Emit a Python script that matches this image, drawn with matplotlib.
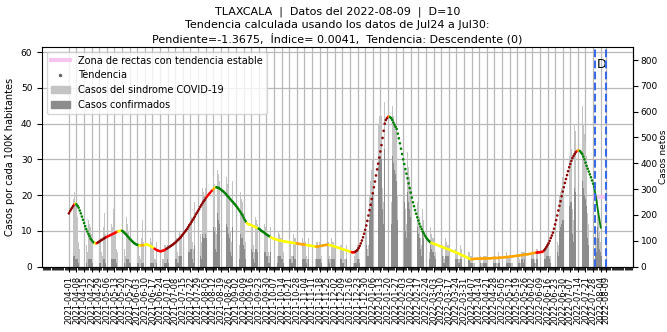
import numpy as np
import pandas as pd
import matplotlib
matplotlib.use("Agg")
import matplotlib.pyplot as plt
import matplotlib.dates as mdates
from matplotlib.lines import Line2D
from matplotlib.patches import Patch

# Datos (casos por cada 100K habitantes)
fecha_inicio = "2021-04-01"
fecha_d = "2022-07-30"
fecha_datos = "2022-08-09"
factor_netos = 13.84  # casos netos por cada caso/100K

# casos del sindrome COVID-19 (diarios desde 2021-04-01)
sindrome = [
    17, 15, 8, 6, 19, 21, 18,  16, 14, 7, 5, 18, 17, 20,  26, 14, 6, 4, 13, 12, 11,
    9, 8, 4, 3, 10, 9, 8,  9, 8, 4, 3, 11, 15, 9,  10, 9, 5, 3, 12, 11, 16,
    11, 10, 5, 4, 18, 13, 12,  11, 10, 5, 3, 14, 12, 10,  8, 8, 4, 3, 9, 8, 9,
    7, 6, 3, 2, 8, 13, 7,  7, 6, 3, 2, 9, 8, 7,  6, 5, 2, 2, 7, 6, 6,
    5, 5, 2, 2, 6, 6, 5,  6, 6, 3, 2, 8, 7, 7,  8, 8, 4, 3, 10, 9, 9,
    11, 10, 5, 4, 13, 12, 12,  15, 14, 7, 5, 18, 17, 16,  19, 17, 9, 7, 22, 21, 20,
    22, 20, 10, 8, 26, 24, 23,  25, 23, 11, 9, 27, 26, 24,  24, 22, 11, 8, 26, 25, 23,
    22, 20, 10, 7, 24, 22, 21,  19, 17, 8, 6, 21, 19, 18,  15, 13, 7, 5, 16, 14, 13,
    13, 12, 6, 4, 14, 13, 12,  12, 11, 5, 4, 13, 12, 11,  10, 9, 4, 3, 11, 10, 10,
    9, 8, 4, 3, 10, 9, 8,  8, 8, 4, 3, 9, 8, 8,  8, 7, 3, 3, 9, 8, 8,
    7, 7, 3, 3, 8, 8, 7,  7, 7, 3, 2, 8, 7, 7,  7, 6, 3, 2, 7, 7, 6,
    7, 6, 3, 2, 8, 7, 6,  7, 7, 3, 2, 8, 7, 7,  6, 6, 3, 2, 7, 6, 6,
    6, 5, 2, 2, 6, 5, 5,  5, 4, 2, 1, 3, 4, 5,  6, 4, 2, 3, 8, 10, 12,
    14, 10, 5, 6, 20, 24, 27,  30, 30, 15, 12, 38, 40, 42,  44, 42, 22, 18, 46, 45, 44,
    44, 46, 24, 18, 45, 42, 40,  38, 35, 20, 15, 40, 36, 33,  30, 27, 16, 12, 32, 28, 25,
    22, 20, 11, 8, 23, 20, 18,  15, 14, 8, 6, 16, 13, 12,  10, 9, 5, 4, 11, 9, 8,
    8, 7, 4, 3, 9, 8, 7,  7, 6, 3, 2, 8, 7, 6,  6, 5, 3, 2, 7, 6, 5,
    5, 4, 2, 2, 6, 5, 4,  4, 3, 2, 1, 4, 4, 3,  3, 2, 1, 1, 3, 3, 2,
    3, 3, 1, 1, 3, 3, 3,  3, 3, 1, 1, 3, 3, 3,  3, 3, 1, 1, 4, 3, 3,
    3, 3, 1, 1, 4, 3, 3,  3, 3, 1, 1, 4, 4, 3,  4, 3, 2, 1, 4, 4, 4,
    4, 4, 2, 1, 5, 4, 4,  4, 4, 2, 1, 5, 5, 4,  5, 4, 2, 2, 5, 5, 6,
    7, 6, 3, 3, 10, 11, 12,  14, 13, 7, 6, 20, 21, 22,  25, 24, 12, 10, 32, 30, 31,
    34, 33, 16, 13, 40, 38, 36,  36, 35, 17, 14, 45, 40, 37,  35, 31, 15, 12, 35, 32, 30,
    27, 22, 10, 8, 20, 14, 10,  7, 5, 2, 1, 2, 1,
]

# casos confirmados (diarios desde 2021-04-01)
confirmados = [
    2, 2, 1, 1, 3, 3, 2,  2, 2, 1, 0, 3, 2, 3,  3, 2, 1, 0, 2, 2, 2,
    2, 1, 1, 0, 2, 2, 1,  1, 1, 0, 0, 2, 2, 1,  2, 1, 1, 0, 2, 2, 2,
    2, 2, 1, 0, 3, 2, 2,  2, 1, 1, 0, 2, 2, 2,  1, 1, 0, 0, 2, 1, 1,
    1, 1, 0, 0, 1, 1, 1,  1, 1, 0, 0, 2, 1, 1,  1, 1, 0, 0, 1, 1, 1,
    1, 1, 0, 0, 1, 1, 1,  2, 1, 1, 0, 2, 2, 2,  2, 2, 1, 1, 3, 3, 3,
    3, 3, 1, 1, 4, 4, 4,  5, 5, 2, 1, 6, 6, 6,  7, 6, 3, 2, 9, 8, 8,
    9, 8, 4, 3, 12, 10, 10,  11, 10, 5, 4, 15, 13, 12,  10, 9, 4, 3, 13, 12, 11,
    9, 8, 4, 3, 11, 10, 9,  8, 7, 3, 2, 9, 8, 8,  6, 5, 2, 2, 7, 6, 5,
    5, 4, 2, 1, 5, 5, 4,  4, 4, 2, 1, 4, 4, 4,  3, 3, 1, 1, 4, 3, 3,
    3, 2, 1, 1, 3, 3, 3,  2, 2, 1, 1, 3, 3, 2,  2, 2, 1, 1, 3, 2, 2,
    2, 2, 1, 1, 2, 2, 2,  2, 2, 1, 0, 2, 2, 2,  2, 2, 1, 0, 2, 2, 2,
    2, 2, 1, 0, 2, 2, 2,  2, 2, 1, 0, 2, 2, 2,  2, 1, 1, 0, 2, 2, 2,
    1, 1, 0, 0, 2, 1, 1,  1, 1, 0, 0, 1, 1, 1,  2, 2, 1, 1, 4, 5, 6,
    8, 6, 3, 3, 13, 16, 18,  20, 20, 10, 8, 26, 28, 30,  31, 30, 16, 12, 33, 32, 31,
    30, 28, 17, 12, 31, 29, 27,  26, 24, 13, 10, 27, 24, 22,  20, 18, 10, 8, 21, 18, 16,
    14, 12, 7, 5, 15, 13, 11,  9, 8, 5, 3, 10, 8, 7,  6, 5, 3, 2, 6, 5, 4,
    4, 3, 2, 1, 4, 4, 3,  3, 3, 1, 1, 3, 3, 3,  3, 2, 1, 1, 3, 3, 2,
    2, 2, 1, 1, 2, 2, 2,  2, 1, 1, 0, 2, 2, 1,  1, 1, 0, 0, 1, 1, 1,
    1, 1, 0, 0, 1, 1, 1,  1, 1, 0, 0, 1, 1, 1,  1, 1, 0, 0, 1, 1, 1,
    1, 1, 0, 0, 1, 1, 1,  1, 1, 0, 0, 2, 1, 1,  1, 1, 1, 0, 2, 2, 1,
    2, 1, 1, 0, 2, 2, 2,  2, 2, 1, 0, 2, 2, 2,  2, 2, 1, 1, 2, 2, 3,
    3, 3, 2, 1, 5, 6, 6,  7, 7, 4, 3, 10, 11, 12,  13, 13, 7, 6, 17, 16, 17,
    18, 18, 9, 7, 22, 21, 20,  20, 19, 9, 7, 24, 22, 20,  19, 17, 8, 6, 19, 17, 16,
    15, 12, 5, 4, 11, 8, 5,  4, 3, 1, 1, 1, 0,
]

# tendencia (promedio, diaria desde 2021-04-01)
tendencia = [
    14.9, 15.5, 16.0, 16.5, 17.0, 17.4, 17.6, 17.4, 17.0, 16.5,
    15.7, 14.9, 14.0, 13.1, 12.2, 11.3, 10.5, 9.8, 9.1, 8.5,
    7.8, 7.4, 7.0, 6.7, 6.5, 6.5, 6.6, 6.8, 7.0, 7.2,
    7.4, 7.6, 7.8, 8.0, 8.2, 8.3, 8.5, 8.6, 8.8, 8.9,
    9.1, 9.2, 9.4, 9.5, 9.7, 9.8, 9.9, 10.0, 10.1, 10.0,
    9.8, 9.5, 9.2, 8.9, 8.5, 8.2, 7.8, 7.5, 7.2, 6.9,
    6.6, 6.4, 6.2, 6.1, 6.0, 5.9, 5.9, 6.0, 6.0, 6.0,
    6.1, 6.2, 6.2, 6.1, 5.9, 5.8, 5.6, 5.4, 5.2,
    5.0, 4.8, 4.6, 4.5, 4.4, 4.3, 4.3, 4.4, 4.5, 4.6,
    4.8, 5.0, 5.2, 5.4, 5.6, 5.8, 6.0, 6.2, 6.5, 6.7,
    7.0, 7.3, 7.6, 7.9, 8.2, 8.6, 9.0, 9.4, 9.8, 10.2,
    10.6, 11.1, 11.6, 12.0, 12.5, 13.0, 13.5, 14.0, 14.6, 15.1,
    15.6, 16.1, 16.7, 17.2, 17.7, 18.2, 18.6, 19.1, 19.5, 19.9,
    20.3, 20.6, 21.0, 21.3, 21.6, 21.9, 22.2, 22.2, 22.1, 22.0,
    21.8, 21.6, 21.3, 21.1, 20.8, 20.5, 20.2, 19.8, 19.5, 19.1,
    18.8, 18.4, 18.1, 17.7, 17.4, 17.0, 16.6, 16.2, 15.7, 15.3,
    14.8, 14.3, 13.7, 13.1, 12.6, 12.2, 11.9, 11.8, 11.7, 11.6,
    11.4, 11.3, 11.2, 11.0, 10.9, 10.7, 10.6, 10.4, 10.1, 9.9,
    9.7, 9.5, 9.2, 9.0, 8.8, 8.6, 8.4, 8.2, 8.1, 7.9,
    7.8, 7.7, 7.6, 7.5, 7.4, 7.3, 7.3, 7.2, 7.1, 7.1,
    7.0, 7.0, 6.9, 6.9, 6.8, 6.8, 6.7, 6.7, 6.6,
    6.6, 6.5, 6.5, 6.4, 6.4, 6.3, 6.3, 6.2, 6.2, 6.1,
    6.1, 6.0, 6.0, 5.9, 5.9, 5.8, 5.8, 5.7, 5.7, 5.6,
    5.6, 5.6, 5.7, 5.7, 5.8, 5.8, 5.9, 6.0, 6.0, 6.1,
    6.1, 6.1, 6.0, 6.0, 5.9, 5.8, 5.7, 5.6, 5.5, 5.4,
    5.3, 5.2, 5.1, 5.0, 4.9, 4.8, 4.7, 4.6, 4.5, 4.4,
    4.3, 4.2, 4.1, 4.0, 4.0, 4.0, 4.2, 4.4, 4.7, 5.2,
    5.8, 6.5, 7.3, 8.2, 9.2, 10.3, 11.5, 12.8, 14.3, 15.8,
    17.3, 18.9, 20.5, 22.2, 23.8, 25.5, 27.2, 28.8, 30.5, 32.2,
    34.0, 36.0, 38.0, 40.0, 41.0, 41.5, 41.9, 42.0, 41.8, 41.5,
    41.0, 40.3, 39.7, 39.1, 38.5, 37.2, 35.9, 34.5, 33.0, 31.5,
    30.0, 28.7, 27.3, 26.0, 24.7, 23.3, 22.0, 20.7, 19.3, 18.0,
    16.9, 15.8, 14.8, 13.8, 12.9, 12.0, 11.2, 10.5, 9.8, 9.3,
    8.7, 8.2, 7.8, 7.4, 7.1, 6.8, 6.7, 6.5, 6.4, 6.3,
    6.2, 6.1, 6.0, 5.8, 5.7, 5.6, 5.5, 5.4, 5.2, 5.1,
    5.0, 4.9, 4.8, 4.7, 4.5, 4.4, 4.3, 4.2, 4.1, 3.9,
    3.8, 3.7, 3.5, 3.4, 3.2, 3.1, 3.0, 2.8, 2.7, 2.5,
    2.4, 2.2, 2.1, 2.1, 2.1, 2.1, 2.2, 2.2, 2.2, 2.2,
    2.2, 2.2, 2.2, 2.3, 2.3, 2.3, 2.3, 2.3, 2.3,
    2.3, 2.3, 2.3, 2.4, 2.4, 2.4, 2.4, 2.4, 2.4, 2.5,
    2.5, 2.5, 2.5, 2.6, 2.6, 2.6, 2.7, 2.7, 2.7, 2.8,
    2.8, 2.8, 2.9, 2.9, 3.0, 3.0, 3.0, 3.1, 3.1, 3.2,
    3.2, 3.2, 3.3, 3.3, 3.4, 3.4, 3.5, 3.5, 3.6, 3.6,
    3.7, 3.8, 3.8, 3.9, 3.9, 4.0, 4.0, 4.0, 4.1, 4.1,
    4.3, 4.6, 5.0, 5.5, 6.0, 6.5, 7.2, 8.0, 8.7, 9.5,
    10.6, 11.8, 13.0, 14.3, 15.7, 17.0, 18.3, 19.7, 21.0, 22.2,
    23.4, 24.5, 25.6, 26.7, 27.8, 28.7, 29.6, 30.4, 31.0, 31.5,
    32.0, 32.3, 32.5, 32.5, 32.3, 31.9, 31.5, 30.8, 30.0, 29.1,
    28.2, 27.4, 26.6, 25.8, 25.0, 24.1, 23.2, 22.4,
]

# color de la tendencia por tramos (indice inicial, indice final, color)
tramos = [
    (0, 4, "darkred"), (5, 5, "red"), (6, 6, "yellow"), (7, 23, "green"),
    (24, 24, "yellow"), (25, 25, "orange"), (26, 26, "red"), (27, 34, "darkred"),
    (35, 44, "red"), (45, 45, "orange"), (46, 48, "yellow"), (49, 64, "green"),
    (65, 66, "yellow"), (67, 69, "orange"), (70, 78, "yellow"), (79, 89, "red"),
    (90, 126, "darkred"), (127, 132, "red"), (133, 134, "orange"), (135, 135, "yellow"),
    (136, 163, "green"), (164, 174, "yellow"), (175, 185, "green"), (186, 209, "yellow"),
    (210, 218, "orange"), (219, 227, "yellow"), (228, 239, "orange"), (240, 259, "yellow"),
    (260, 260, "orange"), (261, 263, "red"), (264, 293, "darkred"), (294, 294, "red"),
    (295, 295, "orange"), (296, 333, "green"), (334, 370, "yellow"), (371, 430, "orange"),
    (431, 437, "red"), (438, 467, "darkred"), (468, 468, "red"), (469, 470, "orange"),
    (471, 484, "green"),
]

# recta de proyeccion y zona estable al final
proy_fechas = ["2022-07-29", "2022-08-04"]
proy_valores = [22.4, 10.9]
zona_fechas = ["2022-07-30", "2022-08-06"]
zona_valores = [19.6, 19.6]

titulo = ("TLAXCALA  |  Datos del 2022-08-09  |  D=10\n"
          "Tendencia calculada usando los datos de Jul24 a Jul30:\n"
          "Pendiente=-1.3675,  Índice= 0.0041,  Tendencia: Descendente (0)")

t0 = pd.Timestamp(fecha_inicio)
fechas_barras = pd.date_range(t0, periods=len(sindrome), freq="D")
fechas_tend = pd.date_range(t0, periods=len(tendencia), freq="D")

colores = ["green"] * len(tendencia)
for a, b, c in tramos:
    for i in range(a, min(b, len(tendencia) - 1) + 1):
        colores[i] = c

fig, ax = plt.subplots(figsize=(6.67, 3.32), dpi=100)
fig.subplots_adjust(left=0.063, right=0.949, bottom=0.197, top=0.859)

ax.bar(fechas_barras, sindrome, width=0.55, color="#c4c4c4", zorder=2)
ax.bar(fechas_barras, confirmados, width=0.55, color="#8c8c8c", zorder=2)
ax.scatter(fechas_tend, tendencia, c=colores, s=3.5, linewidths=0, zorder=4)
ax.plot(pd.to_datetime(proy_fechas), proy_valores, color="green", lw=1.3, zorder=4)
ax.plot(pd.to_datetime(zona_fechas), zona_valores, color="#f5c4ef", lw=3, alpha=0.9, zorder=3)

ax.axvline(pd.Timestamp(fecha_d), color="#3a6be6", ls="--", lw=1.5, zorder=5)
ax.axvline(pd.Timestamp(fecha_datos), color="#3a6be6", ls="--", lw=1.5, zorder=5)
ax.text(pd.Timestamp("2022-08-04") + pd.Timedelta(hours=12), 56.6, "D", fontsize=9,
        ha="center", va="center")

x0 = mdates.date2num(t0)
ax.set_xlim(x0 - 24.75, x0 + 519.75)
ax.set_ylim(0, 61.5)
ax.set_yticks(range(0, 61, 10))

semanas = list(pd.date_range(t0, "2022-08-04", freq="7D")) + [pd.Timestamp(fecha_datos)]
ax.set_xticks(semanas)
ax.set_xticklabels([s.strftime("%Y-%m-%d") for s in semanas], rotation=90, fontsize=6)
ax.xaxis.set_minor_locator(mdates.DayLocator())
ax.tick_params(axis="x", which="minor", length=2)
ax.tick_params(axis="y", labelsize=6.5)
ax.grid(True, which="major", color="#b8b8b8", lw=0.9)
ax.set_axisbelow(True)
ax.set_ylabel("Casos por cada 100K habitantes", fontsize=7)

sec = ax.secondary_yaxis("right", functions=(lambda v: v * factor_netos,
                                             lambda v: v / factor_netos))
sec.set_yticks(range(0, 801, 100))
sec.tick_params(labelsize=6.5, pad=2)
sec.set_ylabel("Casos netos", fontsize=6.5, labelpad=0.5)

manejadores = [
    Line2D([], [], color="#f5c4ef", lw=3),
    Line2D([], [], color="#666666", marker=".", ms=3, ls="none"),
    Patch(color="#c4c4c4"),
    Patch(color="#8c8c8c"),
]
etiquetas = ["Zona de rectas con tendencia estable", "Tendencia",
             "Casos del sindrome COVID-19", "Casos confirmados"]
ax.legend(manejadores, etiquetas, loc="upper left", fontsize=7)

ax.set_title(titulo, fontsize=8, linespacing=1.35, pad=3)

fig.savefig("out.png", dpi=100)
